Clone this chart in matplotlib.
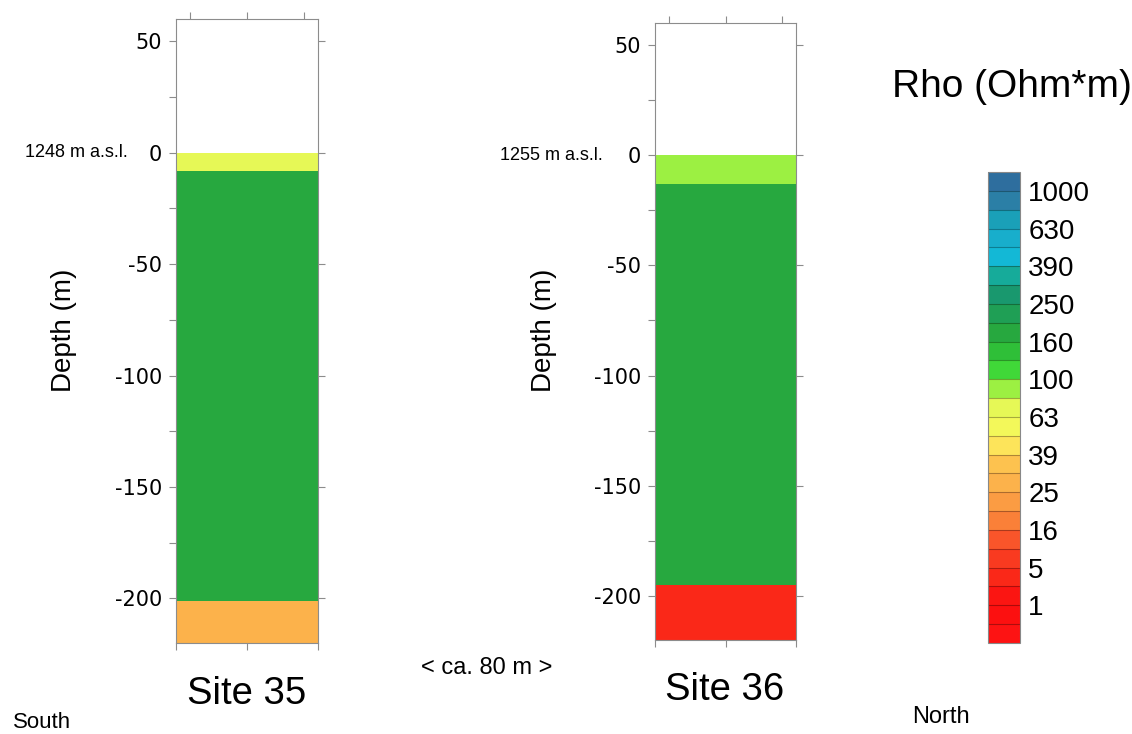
import numpy as np
import matplotlib
matplotlib.use('Agg')
import matplotlib.pyplot as plt
import matplotlib.transforms as mtransforms
from matplotlib.colors import ListedColormap, BoundaryNorm
from matplotlib.cm import ScalarMappable

plt.rcParams['font.family'] = 'Liberation Sans'
plt.rcParams['axes.unicode_minus'] = False

# --- data -------------------------------------------------------------
# layer tops / bottoms (m, relative to surface) and resistivity (Ohm*m)
site35_top = [0, -8, -201]
site35_bottom = [-8, -201, -220]
site35_rho = [70, 180, 30]
site35_elev = '1248 m a.s.l.'

site36_top = [0, -13, -195]
site36_bottom = [-13, -195, -220]
site36_rho = [90, 180, 3]
site36_elev = '1255 m a.s.l.'

# colour scale: labelled values sit on every second band boundary
rho_labels = [1, 5, 16, 25, 39, 63, 100, 160, 250, 390, 630, 1000]
rho_label_pos = [2, 4, 6, 8, 10, 12, 14, 16, 18, 20, 22, 24]
band_colors = [  # bottom -> top
    '#fd1313', '#fc1010', '#fb1512', '#fa2818', '#f93a20', '#f9552a',
    '#fa8038', '#fb9c43', '#fcb24b', '#fdc24f', '#fde45a', '#f3f85a',
    '#e6f856', '#9cf042', '#40d838', '#2fbf38', '#27a83f', '#1f9f55',
    '#19986e', '#16ab9a', '#13b8d6', '#18aecc', '#1aa0b8', '#2b7fa6',
    '#2e6e9e',
]

W, H = 1132, 734


def px(x0, y0, x1, y1):
    """pixel box (top-left origin) -> figure fraction rect"""
    return [x0 / W, 1 - y1 / H, (x1 - x0) / W, (y1 - y0) / H]


def rho_color(r):
    pos = np.interp(np.log10(r), np.log10(rho_labels), rho_label_pos)
    return band_colors[int(pos)]


fig = plt.figure(figsize=(W / 100, H / 100), dpi=100)
grey = '#8c8c8c'


def draw_site(box, tops, bottoms, rho, elev, elev_right, name, name_xy, ylab_x):
    ax = fig.add_axes(px(*box))
    for t, b, r in zip(tops, bottoms, rho):
        ax.bar(0.5, t - b, bottom=b, width=1.0, color=rho_color(r), linewidth=0)
    ax.set_xlim(0, 1)
    ax.set_ylim(-220, 60)
    ax.set_yticks(np.arange(-200, 51, 50))
    ax.set_yticks(np.arange(-200, 51, 25), minor=True)
    ax.set_xticks([0, 0.5, 1])
    ax.set_xticklabels([])
    ax.tick_params(axis='y', which='major', direction='out', length=5,
                   width=0.8, color=grey, pad=5, left=True, right=True)
    ax.tick_params(axis='y', which='minor', direction='out', length=5,
                   width=0.8, color=grey, left=True, right=False)
    ax.tick_params(axis='x', direction='out', length=5, width=0.8, color=grey)
    for lab in ax.get_yticklabels():
        lab.set_fontfamily('DejaVu Sans')
        lab.set_fontsize(15)
    for s in ax.spines.values():
        s.set_edgecolor(grey)
        s.set_linewidth(0.8)

    top = ax.secondary_xaxis('top')
    top.set_xticks([0.1, 0.5, 0.9])
    top.set_xticklabels([])
    top.tick_params(direction='out', length=5, width=0.8, color=grey)
    top.spines['top'].set_visible(False)

    ax.set_ylabel('Depth (m)', fontsize=20)
    x0, y0, x1, y1 = box
    ax.yaxis.set_label_coords((ylab_x - x0) / (x1 - x0), (y1 - 330) / (y1 - y0))

    trans = mtransforms.blended_transform_factory(fig.transFigure, ax.transData)
    ax.text(elev_right / W, 0, elev, transform=trans, ha='right', va='center',
            fontsize=13)
    fig.text(name_xy[0] / W, 1 - name_xy[1] / H, name, ha='center',
             va='center', fontsize=27.5)
    return ax


draw_site((176, 19, 318, 643), site35_top, site35_bottom, site35_rho,
          site35_elev, 128, 'Site 35', (247, 694), 77)
draw_site((655, 23, 796, 640), site36_top, site36_bottom, site36_rho,
          site36_elev, 603, 'Site 36', (725, 690), 557)

# colour bar
cax = fig.add_axes(px(988, 172, 1020, 643))
norm = BoundaryNorm(np.arange(len(band_colors) + 1), len(band_colors))
cb = fig.colorbar(ScalarMappable(norm=norm, cmap=ListedColormap(band_colors)),
                  cax=cax, ticks=rho_label_pos, drawedges=True)
cb.set_ticklabels([str(v) for v in rho_labels])
cb.minorticks_off()
cb.ax.tick_params(which='both', length=0, labelsize=20, pad=6)
cb.outline.set_edgecolor('#888888')
cb.outline.set_linewidth(0.8)
cb.dividers.set_color('#00000050')
cb.dividers.set_linewidth(0.8)

fig.text(892 / W, 1 - 87 / H, 'Rho (Ohm*m)', ha='left', va='center', fontsize=28)
fig.text(487 / W, 1 - 668 / H, '< ca. 80 m >', ha='center', va='center',
         fontsize=17)
fig.text(13 / W, 1 - 728 / H, 'South', ha='left', va='baseline', fontsize=16)
fig.text(912 / W, 1 - 717 / H, 'North', ha='left', va='center', fontsize=17)

fig.savefig('out.png', dpi=100)
